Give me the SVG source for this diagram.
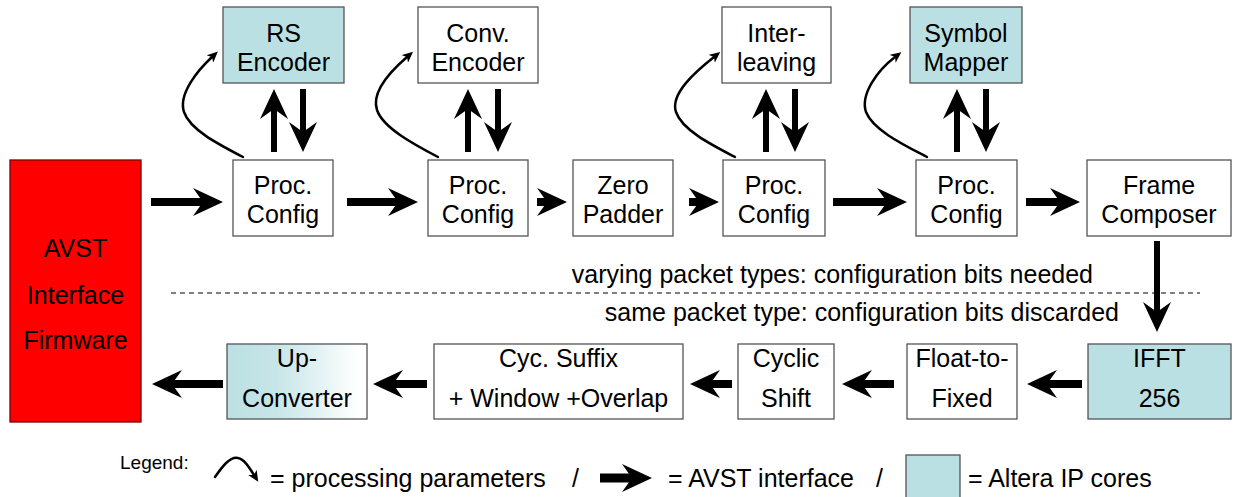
<svg xmlns="http://www.w3.org/2000/svg" width="1235" height="497" viewBox="0 0 1235 497">
<defs>
<style>
.box{fill:#fff;stroke:#555;stroke-width:1.3}
.ip{fill:#BBE0E3;stroke:#555;stroke-width:1.3}
.t{font-family:"Liberation Sans",Arial,sans-serif;font-size:25px;fill:#000;text-anchor:middle}
.ts{font-family:"Liberation Sans",Arial,sans-serif;font-size:25px;fill:#000}
.av{stroke:#000;stroke-width:8;fill:none;marker-end:url(#ah)}
.avv{stroke:#000;stroke-width:6;fill:none;marker-end:url(#ah)}
.pp{stroke:#000;stroke-width:2.5;fill:none;stroke-linecap:round;marker-end:url(#sm)}
</style>
<marker id="ah" markerUnits="userSpaceOnUse" markerWidth="32" markerHeight="30" viewBox="0 0 32 30" refX="10" refY="15" orient="auto">
<path d="M0,1 L30,15 L0,29 L10,15 Z" fill="#000"/>
</marker>
<marker id="sm" markerUnits="userSpaceOnUse" markerWidth="12" markerHeight="10" viewBox="0 0 12 10" refX="3" refY="5" orient="auto">
<path d="M0,0 L11,5 L0,10 L3,5 Z" fill="#000"/>
</marker>
<linearGradient id="upg" x1="0" y1="0" x2="1" y2="0">
<stop offset="0" stop-color="#BBE0E3"/>
<stop offset="0.35" stop-color="#C6E5E8"/>
<stop offset="0.95" stop-color="#FFFFFF"/>
</linearGradient>
</defs>
<rect width="1235" height="497" fill="#fff"/>

<g id="avst">
<rect x="10" y="160" width="131" height="262" fill="#FF0000" stroke="#7F0000" stroke-width="1.3"/>
<text class="t" x="75.5" y="257">AVST</text>
<text class="t" x="75.5" y="304">Interface</text>
<text class="t" x="75.5" y="349">Firmware</text>
</g>

<g id="rs-encoder"><rect class="ip" x="223" y="7" width="121" height="76"/><text class="t" x="283.5" y="42">RS</text><text class="t" x="283.5" y="71">Encoder</text></g>
<g id="conv-encoder"><rect class="box" x="418" y="7" width="120" height="76"/><text class="t" x="478" y="42">Conv.</text><text class="t" x="478" y="71">Encoder</text></g>
<g id="interleaving"><rect class="box" x="722" y="7" width="109" height="76"/><text class="t" x="776.5" y="42">Inter-</text><text class="t" x="776.5" y="71">leaving</text></g>
<g id="symbol-mapper"><rect class="ip" x="910" y="7" width="112" height="76"/><text class="t" x="966" y="42">Symbol</text><text class="t" x="966" y="71">Mapper</text></g>

<g id="proc1"><rect class="box" x="233" y="160" width="100" height="76"/><text class="t" x="283" y="194">Proc.</text><text class="t" x="283" y="223">Config</text></g>
<g id="proc2"><rect class="box" x="428" y="160" width="100" height="76"/><text class="t" x="478" y="194">Proc.</text><text class="t" x="478" y="223">Config</text></g>
<g id="zero-padder"><rect class="box" x="573" y="160" width="100" height="76"/><text class="t" x="623" y="194">Zero</text><text class="t" x="623" y="223">Padder</text></g>
<g id="proc3"><rect class="box" x="723" y="160" width="102" height="76"/><text class="t" x="774" y="194">Proc.</text><text class="t" x="774" y="223">Config</text></g>
<g id="proc4"><rect class="box" x="916" y="160" width="101" height="76"/><text class="t" x="966.5" y="194">Proc.</text><text class="t" x="966.5" y="223">Config</text></g>
<g id="frame-composer"><rect class="box" x="1087" y="160" width="144" height="76"/><text class="t" x="1159" y="194">Frame</text><text class="t" x="1159" y="223">Composer</text></g>

<g id="ifft"><rect class="ip" x="1088" y="344" width="143" height="75"/><text class="t" x="1159.5" y="367">IFFT</text><text class="t" x="1159.5" y="407">256</text></g>
<g id="float-to-fixed"><rect class="box" x="907" y="344" width="110" height="75"/><text class="t" x="962" y="367">Float-to-</text><text class="t" x="962" y="407">Fixed</text></g>
<g id="cyclic-shift"><rect class="box" x="738" y="344" width="96" height="75"/><text class="t" x="786" y="367">Cyclic</text><text class="t" x="786" y="407">Shift</text></g>
<g id="cyc-suffix"><rect class="box" x="434" y="344" width="249" height="75"/><text class="t" x="558.5" y="367">Cyc. Suffix</text><text class="t" x="558.5" y="407">+ Window +Overlap</text></g>
<g id="up-converter"><rect x="227" y="344" width="140" height="75" fill="url(#upg)" stroke="#555" stroke-width="1.3"/><text class="t" x="297" y="367">Up-</text><text class="t" x="297" y="407">Converter</text></g>

<g id="connectors">
<line class="av" x1="151" y1="202" x2="203" y2="202"/>
<line class="av" x1="347" y1="202" x2="398" y2="202"/>
<line class="av" x1="537" y1="202" x2="547" y2="202"/>
<line class="av" x1="689" y1="202" x2="699" y2="202"/>
<line class="av" x1="833" y1="202" x2="887" y2="202"/>
<line class="av" x1="1026" y1="202" x2="1060" y2="202"/>

<line class="avv" x1="274" y1="152" x2="274" y2="109"/>
<line class="avv" x1="303" y1="89" x2="303" y2="132"/>
<line class="avv" x1="468" y1="152" x2="468" y2="109"/>
<line class="avv" x1="498" y1="89" x2="498" y2="132"/>
<line class="avv" x1="766" y1="152" x2="766" y2="109"/>
<line class="avv" x1="795" y1="89" x2="795" y2="132"/>
<line class="avv" x1="957" y1="152" x2="957" y2="109"/>
<line class="avv" x1="986" y1="89" x2="986" y2="132"/>

<path class="pp" d="M243,157 C220,145 190,130 184,112 C178,94 198,70 212,57"/>
<path class="pp" d="M438,157 C415,145 383,128 377,110 C371,92 392,70 407,57"/>
<path class="pp" d="M735,157 C712,145 682,130 676,112 C670,94 695,72 714,57"/>
<path class="pp" d="M927,157 C904,145 873,130 866,112 C860,94 878,70 895,57"/>

<line class="avv" x1="1157" y1="241" x2="1157" y2="312"/>

<line class="av" x1="1082" y1="384" x2="1047" y2="384"/>
<line class="av" x1="894" y1="384" x2="862" y2="384"/>
<line class="av" x1="732" y1="384" x2="710" y2="384"/>
<line class="av" x1="427" y1="384" x2="393" y2="384"/>
<line class="av" x1="223" y1="384" x2="172" y2="384"/>
</g>

<line x1="171" y1="293" x2="1200" y2="293" stroke="#000" stroke-width="1" stroke-dasharray="5,4"/>
<text class="ts" x="1093" y="283" text-anchor="end">varying packet types: configuration bits needed</text>
<text class="ts" x="1119" y="321" text-anchor="end">same packet type: configuration bits discarded</text>

<g id="legend">
<text class="ts" x="120" y="469" style="font-size:19px">Legend:</text>
<path class="pp" d="M215,477 C222,467 230,456 238,458 C244,459 249,467 254,475"/>
<text class="ts" x="270" y="487">= processing parameters</text>
<text class="ts" x="572" y="487">/</text>
<line x1="600" y1="478" x2="632" y2="478" stroke="#000" stroke-width="9" marker-end="url(#ah)"/>
<text class="ts" x="668" y="487">= AVST interface</text>
<text class="ts" x="876" y="487">/</text>
<rect class="ip" x="906" y="455" width="54" height="46"/>
<text class="ts" x="968" y="487">= Altera IP cores</text>
</g>
</svg>
